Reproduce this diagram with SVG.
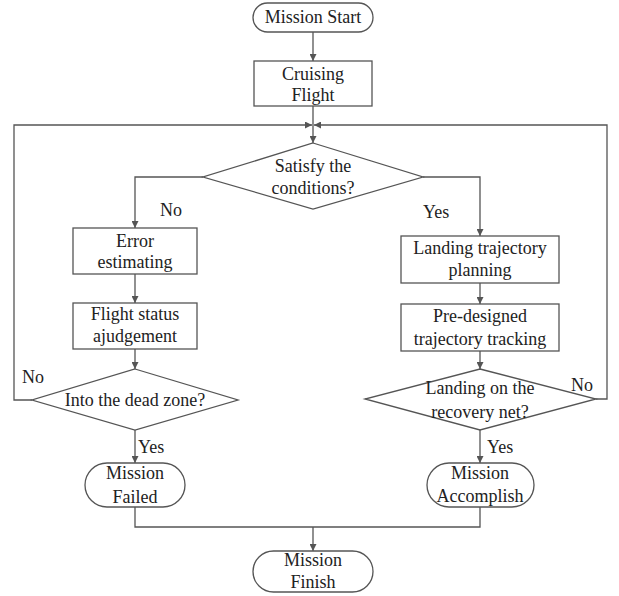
<svg xmlns="http://www.w3.org/2000/svg" width="619" height="596" viewBox="0 0 619 596">
<style>
.n{fill:#fff;stroke:#555;stroke-width:1.3}
.c{fill:none;stroke:#555;stroke-width:1.3}
text{font-family:'Liberation Serif','Times New Roman',Times,'DejaVu Serif',serif;font-size:18px;fill:#222;text-anchor:middle}
.l{text-anchor:start}
</style>
<defs>
<marker id="a" viewBox="0 0 10 10" refX="10" refY="5" markerWidth="7" markerHeight="7" markerUnits="userSpaceOnUse" orient="auto">
<path d="M0,0 L10,5 L0,10 z" fill="#555"/>
</marker>
</defs>
<rect width="619" height="596" fill="#fff"/>
<g id="connectors">
<path class="c" d="M313,32 V61" marker-end="url(#a)"/>
<path class="c" d="M313,106 V143" marker-end="url(#a)"/>
<path class="c" d="M32,400 H14 V125 H312" marker-end="url(#a)"/>
<path class="c" d="M596,399 H607 V125 H314" marker-end="url(#a)"/>
<path class="c" d="M203,177 H135 V228" marker-end="url(#a)"/>
<path class="c" d="M135,274 V303" marker-end="url(#a)"/>
<path class="c" d="M135,349 V369" marker-end="url(#a)"/>
<path class="c" d="M135,430 V463" marker-end="url(#a)"/>
<path class="c" d="M423,177 H480 V236" marker-end="url(#a)"/>
<path class="c" d="M480,283 V304" marker-end="url(#a)"/>
<path class="c" d="M480,351 V369" marker-end="url(#a)"/>
<path class="c" d="M480,430 V463" marker-end="url(#a)"/>
<path class="c" d="M135,507 V527 H480 V507"/>
<path class="c" d="M313,527 V551" marker-end="url(#a)"/>
<text class="l" x="160" y="216">No</text>
<text class="l" x="423" y="218">Yes</text>
<text class="l" x="22" y="383">No</text>
<text class="l" x="571" y="391">No</text>
<text class="l" x="138" y="453">Yes</text>
<text class="l" x="487" y="453">Yes</text>
</g>
<g id="start">
<rect class="n" x="253" y="3" width="120" height="29" rx="14.5"/>
<text x="313" y="23">Mission Start</text>
</g>
<g id="cruising">
<rect class="n" x="254" y="61" width="118" height="45"/>
<text x="313" y="80">Cruising</text>
<text x="313" y="101">Flight</text>
</g>
<g id="satisfy">
<polygon class="n" points="313,143 423,177 313,209 203,177"/>
<text x="313" y="172">Satisfy the</text>
<text x="313" y="194">conditions?</text>
</g>
<g id="error">
<rect class="n" x="73" y="228" width="124" height="46"/>
<text x="135" y="247">Error</text>
<text x="135" y="268">estimating</text>
</g>
<g id="status">
<rect class="n" x="73" y="303" width="124" height="46"/>
<text x="135" y="320">Flight status</text>
<text x="135" y="342">ajudgement</text>
</g>
<g id="deadzone">
<polygon class="n" points="135,369 238,400 135,430 32,400"/>
<text x="135" y="406">Into the dead zone?</text>
</g>
<g id="failed">
<rect class="n" x="85" y="463" width="100" height="44" rx="22"/>
<text x="135" y="479">Mission</text>
<text x="135" y="503">Failed</text>
</g>
<g id="planning">
<rect class="n" x="401" y="236" width="158" height="47"/>
<text x="480" y="254">Landing trajectory</text>
<text x="480" y="276">planning</text>
</g>
<g id="tracking">
<rect class="n" x="401" y="304" width="158" height="47"/>
<text x="480" y="322">Pre-designed</text>
<text x="480" y="345">trajectory tracking</text>
</g>
<g id="net">
<polygon class="n" points="480,369 596,399 480,430 365,399"/>
<text x="480" y="394">Landing on the</text>
<text x="480" y="418">recovery net?</text>
</g>
<g id="accomplish">
<rect class="n" x="427" y="463" width="107" height="44" rx="22"/>
<text x="480" y="479">Mission</text>
<text x="480" y="502">Accomplish</text>
</g>
<g id="finish">
<rect class="n" x="253" y="551" width="120" height="41" rx="20.5"/>
<text x="313" y="566">Mission</text>
<text x="313" y="588">Finish</text>
</g>
</svg>
